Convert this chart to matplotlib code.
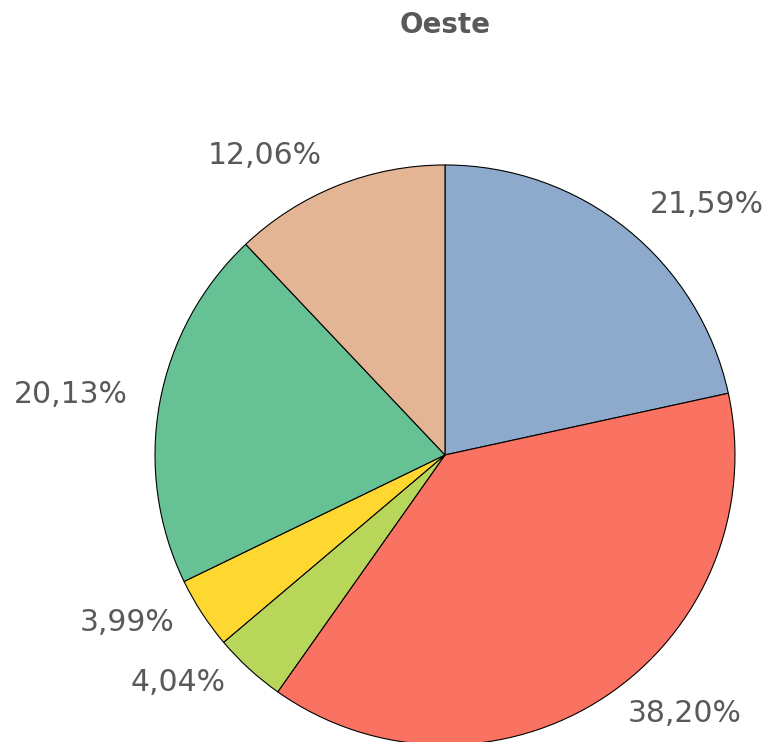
import matplotlib.pyplot as plt
import numpy as np

# data
title = 'Oeste'
values = [21.59, 38.20, 4.04, 3.99, 20.13, 12.06]
labels = ['21,59%', '38,20%', '4,04%', '3,99%', '20,13%', '12,06%']
colors = ['#8DA9CB', '#FA7261', '#B8D65A', '#FED731', '#66C295', '#E3B594']

# label spots (in pie radius units, relative to centre)
label_pos = [(0.903, 0.862), (0.828, -0.893), (-0.921, -0.786),
             (-1.097, -0.579), (-1.290, 0.207), (-0.621, 1.031)]

fig = plt.figure(figsize=(7.7, 7.42), dpi=100)
ax = fig.add_axes([0.2013, -0.004, 0.7532, 0.7817])

wedges, _ = ax.pie(values, colors=colors, startangle=90, counterclock=False,
                   radius=1, wedgeprops=dict(edgecolor='black', linewidth=0.8))
for w in wedges:
    w.set_clip_on(False)

for lab, (x, y) in zip(labels, label_pos):
    ax.text(x, y, lab, ha='center', va='center', fontsize=21.5,
            color='#595959', family='DejaVu Sans', clip_on=False)

ax.set_xlim(-1, 1)
ax.set_ylim(-1, 1)
ax.set_aspect('equal')
ax.axis('off')

fig.text(445 / 770, 1 - 25 / 742, title, ha='center', va='center',
         fontsize=20, fontweight='bold', color='#595959')

fig.savefig('out.png', dpi=100)
